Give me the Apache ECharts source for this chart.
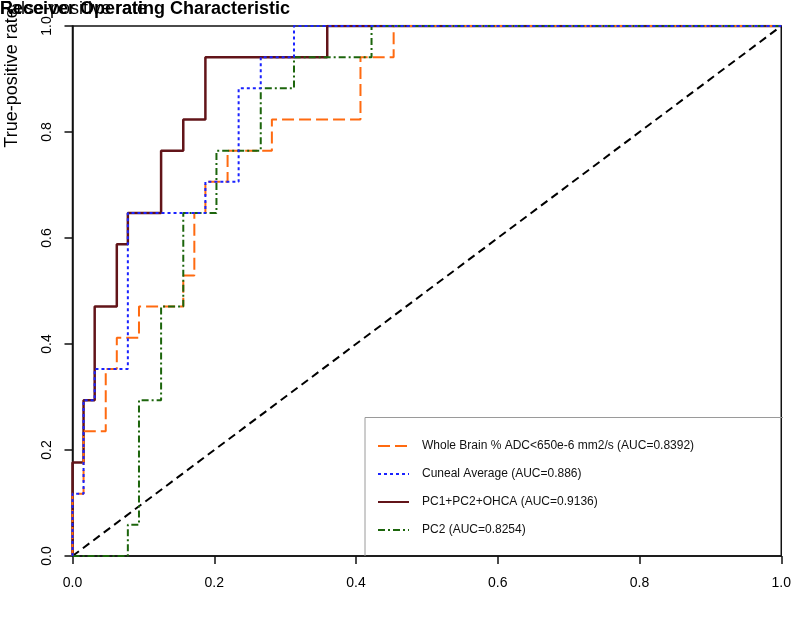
<!DOCTYPE html>
<html>
<head>
<meta charset="utf-8">
<script src="https://cdn.jsdelivr.net/npm/echarts@6/dist/echarts.min.js"></script>
<style>
html,body{margin:0;padding:0;background:#fff;}
#chart{width:794px;height:628px;}
</style>
</head>
<body>
<div id="chart"></div>
<script>
// ---- data ----
const titleText = 'Receiver Operating Characteristic';
const xLabelText = 'False-positive rate';
const yLabelText = 'True-positive rate';
const tickLabels = ['0.0', '0.2', '0.4', '0.6', '0.8', '1.0'];

const seriesNames = [
  'Whole Brain % ADC<650e-6 mm2/s (AUC=0.8392)',
  'Cuneal Average (AUC=0.886)',
  'PC1+PC2+OHCA (AUC=0.9136)',
  'PC2 (AUC=0.8254)'
];

const wholeBrainFpr = [0, 0, 0.0156, 0.0156, 0.0469, 0.0469, 0.0625, 0.0625, 0.0938, 0.0938, 0.1563, 0.1563, 0.1719, 0.1719, 0.1875, 0.1875, 0.2188, 0.2188, 0.2813, 0.2813, 0.4063, 0.4063, 0.4531, 0.4531, 1];
const wholeBrainTpr = [0, 0.1176, 0.1176, 0.2353, 0.2353, 0.3529, 0.3529, 0.4118, 0.4118, 0.4706, 0.4706, 0.5294, 0.5294, 0.6471, 0.6471, 0.7059, 0.7059, 0.7647, 0.7647, 0.8235, 0.8235, 0.9412, 0.9412, 1, 1];

const cunealFpr = [0, 0, 0.0156, 0.0156, 0.0313, 0.0313, 0.0781, 0.0781, 0.1875, 0.1875, 0.2344, 0.2344, 0.2656, 0.2656, 0.3125, 0.3125, 1];
const cunealTpr = [0, 0.1176, 0.1176, 0.2941, 0.2941, 0.3529, 0.3529, 0.6471, 0.6471, 0.7059, 0.7059, 0.8824, 0.8824, 0.9412, 0.9412, 1, 1];

const pcComboFpr = [0, 0, 0.0156, 0.0156, 0.0313, 0.0313, 0.0625, 0.0625, 0.0781, 0.0781, 0.125, 0.125, 0.1563, 0.1563, 0.1875, 0.1875, 0.3594, 0.3594, 1];
const pcComboTpr = [0, 0.1765, 0.1765, 0.2941, 0.2941, 0.4706, 0.4706, 0.5882, 0.5882, 0.6471, 0.6471, 0.7647, 0.7647, 0.8235, 0.8235, 0.9412, 0.9412, 1, 1];

const pc2Fpr = [0, 0.0781, 0.0781, 0.0938, 0.0938, 0.125, 0.125, 0.1563, 0.1563, 0.2031, 0.2031, 0.2656, 0.2656, 0.3125, 0.3125, 0.4219, 0.4219, 1];
const pc2Tpr = [0, 0, 0.0588, 0.0588, 0.2941, 0.2941, 0.4706, 0.4706, 0.6471, 0.6471, 0.7647, 0.7647, 0.8824, 0.8824, 0.9412, 0.9412, 1, 1];

const diagX = [0, 1];
const diagY = [0, 1];

// ---- build ----
const zip = (xs, ys) => xs.map((x, i) => [x, ys[i]]);
const FONT = 'Liberation Sans, Arial, Helvetica, sans-serif';

const chart = echarts.init(document.getElementById('chart'), null, {renderer: 'canvas'});

function lineSeries(name, xs, ys, color, type, width, z) {
  return {
    name: name,
    type: 'line',
    data: zip(xs, ys),
    symbol: 'none',
    showSymbol: false,
    animation: false,
    z: z,
    lineStyle: {color: color, width: width, type: type, cap: 'butt'},
    itemStyle: {color: color}
  };
}

const option = {
  backgroundColor: '#ffffff',
  animation: false,
  title: [
    {
      text: titleText, left: 0, top: 0, padding: 0,
      textStyle: {fontFamily: FONT, fontSize: 18, fontWeight: 'bold', color: '#000'}
    },
    {
      text: xLabelText, left: 0, top: 0, padding: 0,
      textStyle: {fontFamily: FONT, fontSize: 18, fontWeight: 'normal', color: '#000'}
    }
  ],
  grid: {
    left: 72.5, top: 26, width: 710, height: 530,
    show: true, borderColor: '#111', borderWidth: 1.5, backgroundColor: 'transparent'
  },
  xAxis: {
    type: 'value', min: 0, max: 1, interval: 0.2,
    axisLine: {show: true, lineStyle: {color: '#111', width: 1.5}},
    axisTick: {show: true, length: 8, inside: false, lineStyle: {color: '#111', width: 1.5}},
    axisLabel: {
      margin: 20, fontFamily: FONT, fontSize: 14, color: '#000',
      formatter: v => tickLabels[Math.round(v * 5)]
    },
    splitLine: {show: false}
  },
  yAxis: {
    type: 'value', min: 0, max: 1, interval: 0.2,
    axisLine: {show: true, lineStyle: {color: '#111', width: 1.5}},
    axisTick: {show: true, length: 8, inside: false, lineStyle: {color: '#111', width: 1.5}},
    axisLabel: {
      margin: 18, rotate: 90, fontFamily: FONT, fontSize: 14, color: '#000',
      formatter: v => tickLabels[Math.round(v * 5)]
    },
    splitLine: {show: false}
  },
  legend: {
    orient: 'vertical', left: 377, top: 440, padding: 0,
    itemWidth: 31, itemHeight: 12, itemGap: 16,
    data: seriesNames,
    itemStyle: {opacity: 0},
    textStyle: {fontFamily: FONT, fontSize: 12, color: '#111', padding: [0, 0, 0, 8]}
  },
  graphic: [
    {
      type: 'polyline', z: 10,
      shape: {points: [[365, 556], [365, 417.5], [783, 417.5]]},
      style: {stroke: '#9a9a9a', lineWidth: 1, fill: null}
    },
    {
      type: 'text', x: 12, y: 78, rotation: Math.PI / 2, z: 1,
      style: {text: yLabelText, font: '18px ' + FONT, fill: '#000', textAlign: 'center', textVerticalAlign: 'middle'}
    }
  ],
  series: [
    {
      name: 'diagonal', type: 'line', data: zip(diagX, diagY), symbol: 'none', z: 1,
      lineStyle: {color: '#000', width: 2, type: [8, 5]}, animation: false
    },
    lineSeries(seriesNames[2], pcComboFpr, pcComboTpr, '#621419', 'solid', 2.5, 2),
    lineSeries(seriesNames[0], wholeBrainFpr, wholeBrainTpr, '#ff6a10', [12, 5], 2, 3),
    lineSeries(seriesNames[3], pc2Fpr, pc2Tpr, '#1c650c', [7, 3, 2, 3], 2, 4),
    lineSeries(seriesNames[1], cunealFpr, cunealTpr, '#1a22ff', [3, 3], 2, 5)
  ]
};

chart.setOption(option);
</script>
</body>
</html>
